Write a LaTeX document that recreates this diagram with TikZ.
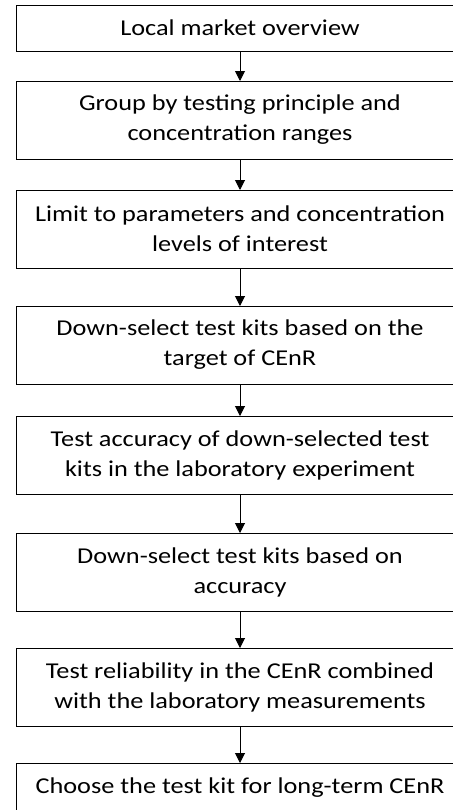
\documentclass[tikz,border=0pt]{standalone}
\usepackage{fontspec}
\setmainfont{Carlito}[FakeStretch=1.16]
\usetikzlibrary{positioning, arrows.meta}

\begin{document}
\begin{tikzpicture}[
    x=0.75pt, y=-0.75pt,
    stepbox/.style={rectangle, draw, line width=0.75pt, outer sep=0pt,
        minimum width=336pt, minimum height=58.5pt, align=center,
        font=\fontsize{17}{22.5}\selectfont},
    shortbox/.style={stepbox, minimum height=34.5pt},
    flow/.style={-{Triangle[width=7.5pt, length=7.5pt]}, line width=0.75pt}
]
\useasboundingbox (0,0) rectangle (453,810);
\clip (0,0) rectangle (453,810);

% Steps
\node[shortbox] (market) at (240,28) {Local market overview};
\node[stepbox, below=22.5pt of market] (group) {Group by testing principle and\\concentration ranges};
\node[stepbox, below=23.25pt of group] (limit) {Limit to parameters and concentration\\levels of interest};
\node[stepbox, below=28.5pt of limit] (target) {Down-select test kits based on the\\target of CEnR};
\node[stepbox, below=24pt of target] (accuracy) {Test accuracy of down-selected test\\kits in the laboratory experiment};
\node[stepbox, below=29.25pt of accuracy] (select) {Down-select test kits based on\\accuracy};
\node[stepbox, below=27.75pt of select] (reliability) {Test reliability in the CEnR combined\\with the laboratory measurements};
\node[shortbox, below=27.75pt of reliability, minimum height=37.5pt] (choose) {Choose the test kit for long-term CEnR};

% Arrows
\draw[flow] (market) -- (group);
\draw[flow] (group) -- (limit);
\draw[flow] (limit) -- (target);
\draw[flow] (target) -- (accuracy);
\draw[flow] (accuracy) -- (select);
\draw[flow] (select) -- (reliability);
\draw[flow] (reliability) -- (choose);

\end{tikzpicture}
\end{document}
